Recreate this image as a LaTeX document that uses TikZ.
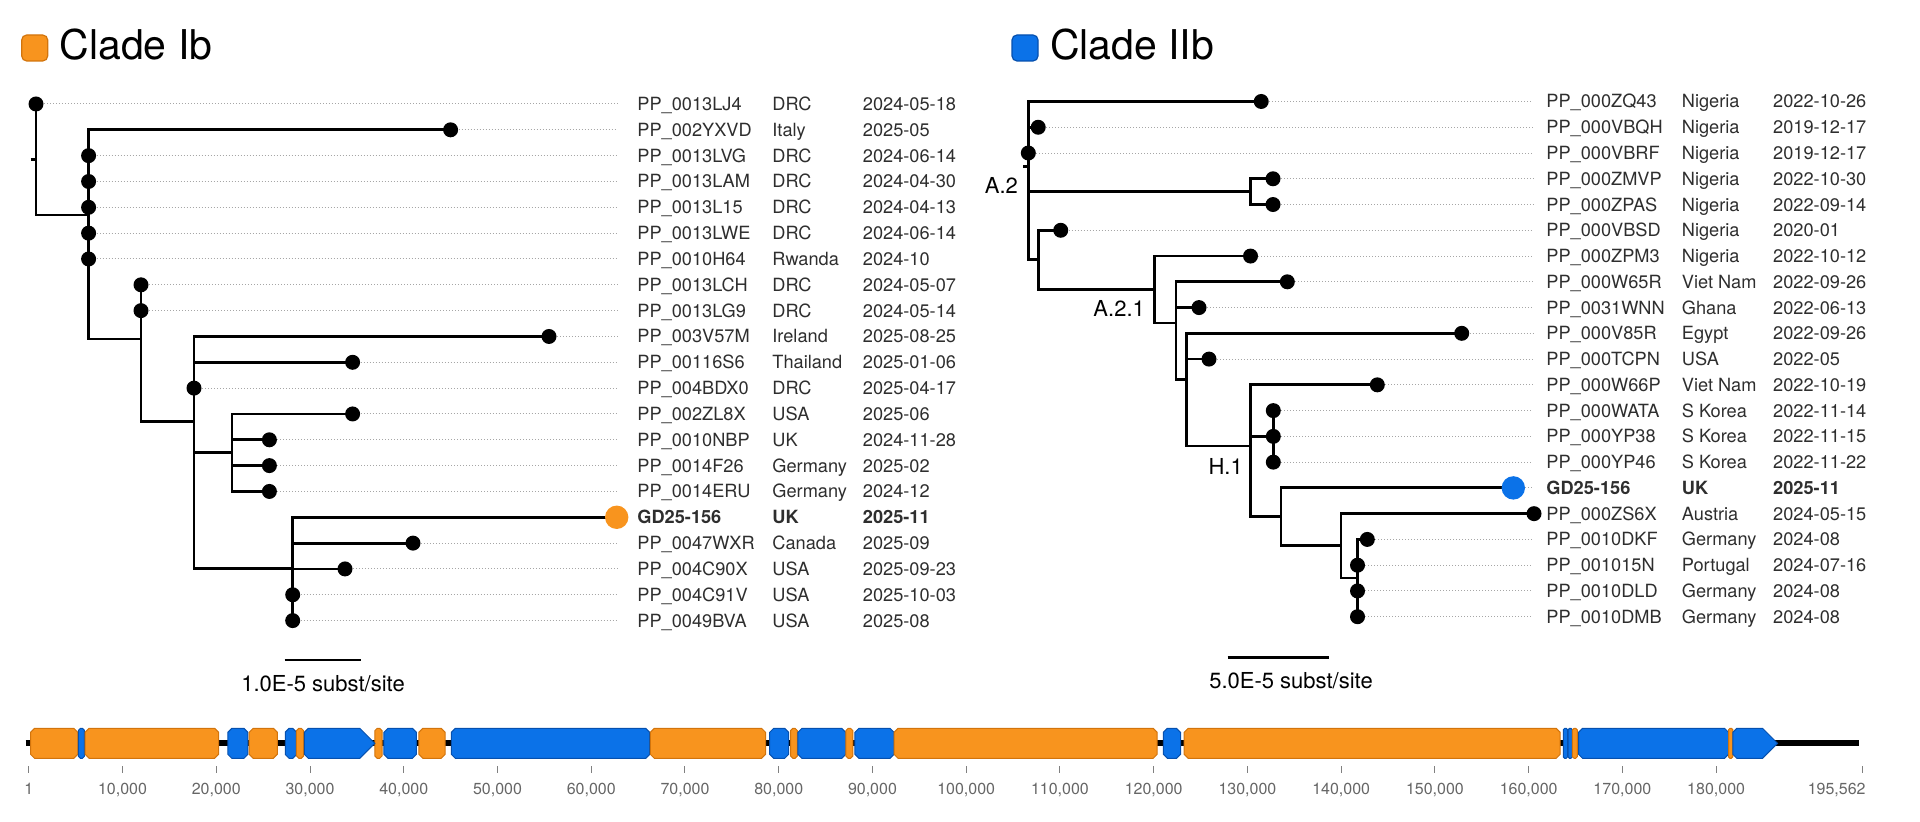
\documentclass[tikz,border=0pt]{standalone}
\usepackage{fontspec}
\setmainfont{TeX Gyre Heros}
\usetikzlibrary{backgrounds,positioning}
\definecolor{cladeI}{HTML}{F8941E}
\definecolor{cladeIdark}{HTML}{D2740C}
\definecolor{cladeII}{HTML}{0B72E8}
\definecolor{cladeIIdark}{HTML}{0650AE}
\definecolor{labgrey}{HTML}{2E2E2E}
\tikzset{
branch/.style={draw, line width=1.4pt},
leaf/.style={circle, fill=black, inner sep=0pt, minimum size=7.5pt},
leafI/.style={leaf, fill=cladeI, minimum size=11.7pt},
leafII/.style={leaf, fill=cladeII, minimum size=11.7pt},
leader/.style={draw, gray!70, line width=0.5pt, dash pattern=on 0.5pt off 1pt},
idlab/.style={anchor=west, inner xsep=#1, inner ysep=0pt, text height=6.5pt,
  text depth=0pt, text=labgrey, font=\fontsize{9.1pt}{11pt}\selectfont},
idlab/.default=0pt,
collab/.style={idlab},
cladelab/.style={anchor=east, inner sep=0pt, text height=7.9pt, text depth=0pt,
  font=\fontsize{11pt}{13pt}\selectfont},
sblab/.style={inner sep=0pt, text height=7.9pt, text depth=0pt,
  font=\fontsize{11pt}{13pt}\selectfont},
cladekey/.style={rectangle, rounded corners=2.5pt, minimum size=13pt, inner sep=0pt, line width=0.6pt},
cladetitle/.style={inner sep=0pt, font=\fontsize{20.5pt}{24pt}\selectfont},
backbone/.style={draw, line width=3pt},
gene/.style={fill=#1, draw=#1dark, line width=0.5pt},
gtick/.style={draw, gray, line width=0.5pt},
ticklab/.style={inner sep=0pt, text height=5.7pt, text depth=0pt, text=gray!80!black,
  font=\fontsize{8pt}{10pt}\selectfont}
}
% genome blocks, positions in kb
\newcommand{\gblock}[3]{%
  \pgfmathsetmacro{\gxa}{28.8+9.374*#1}%
  \pgfmathsetmacro{\gxb}{28.8+9.374*#2}%
  \pgfmathsetmacro{\gch}{min(4,(\gxb-\gxa)/3)}%
  \path[gene=#3] (\gxa,{728.3+\gch}) -- ({\gxa+\gch},728.3) -- ({\gxb-\gch},728.3) -- (\gxb,{728.3+\gch})
    -- (\gxb,{758.3-\gch}) -- ({\gxb-\gch},758.3) -- ({\gxa+\gch},758.3) -- (\gxa,{758.3-\gch}) -- cycle;
}
\newcommand{\garrow}[3]{%
  \pgfmathsetmacro{\gxa}{28.8+9.374*#1}%
  \pgfmathsetmacro{\gxb}{28.8+9.374*#2}%
  \path[gene=#3] (\gxa,732.3) -- ({\gxa+4},728.3) -- ({\gxb-15},728.3) -- (\gxb,743.3)
    -- ({\gxb-15},758.3) -- ({\gxa+4},758.3) -- (\gxa,754.3) -- cycle;
}

\begin{document}
\begin{tikzpicture}[x=0.5pt,y=-0.5pt]
    \useasboundingbox (0,0) rectangle (1920,822);
    % titles
    \node [cladekey, fill=cladeI, draw=cladeIdark] (keyI) at (34.7,48) {};
    \node [cladetitle, right=5.5pt of keyI, yshift=1.6pt] (titleI) {Clade Ib};
    \node [cladekey, fill=cladeII, draw=cladeIIdark] (keyII) at (1025,48) {};
    \node [cladetitle, right=5.5pt of keyII, yshift=1.6pt] (titleII) {Clade IIb};

    % clade Ib tree
    \coordinate (Lstub) at (30.6,159.5);
    \coordinate (Lroot) at (36,159.5);
    \coordinate (Ldrc) at (88.6,215.1);
    \coordinate (Lb) at (141,339);
    \coordinate (Lc) at (194,421.7);
    \coordinate (Ld) at (232,452.7);
    \coordinate (Le) at (292.7,568.9);
    \foreach \x/\s [count=\i from 0] in {36/leaf, 450.6/leaf, 88.6/leaf, 88.6/leaf, 88.6/leaf,
      88.6/leaf, 88.6/leaf, 141/leaf, 141/leaf, 549/leaf, 352.6/leaf, 194/leaf, 352.6/leaf,
      269.4/leaf, 269.4/leaf, 269.4/leaf, 616.7/leafI, 413/leaf, 345/leaf, 292.7/leaf, 292.7/leaf}
      \node [\s] (Lt\i) at (\x,{104+25.83*\i}) {};
    \foreach \id/\ctry/\date [count=\i from 0] in {
      PP\_0013LJ4/DRC/2024-05-18,
      PP\_002YXVD/Italy/2025-05,
      PP\_0013LVG/DRC/2024-06-14,
      PP\_0013LAM/DRC/2024-04-30,
      PP\_0013L15/DRC/2024-04-13,
      PP\_0013LWE/DRC/2024-06-14,
      PP\_0010H64/Rwanda/2024-10,
      PP\_0013LCH/DRC/2024-05-07,
      PP\_0013LG9/DRC/2024-05-14,
      PP\_003V57M/Ireland/2025-08-25,
      PP\_00116S6/Thailand/2025-01-06,
      PP\_004BDX0/DRC/2025-04-17,
      PP\_002ZL8X/USA/2025-06,
      PP\_0010NBP/UK/2024-11-28,
      PP\_0014F26/Germany/2025-02,
      PP\_0014ERU/Germany/2024-12,
      \textbf{GD25-156}/\textbf{UK}/\textbf{2025-11},
      PP\_0047WXR/Canada/2025-09,
      PP\_004C90X/USA/2025-09-23,
      PP\_004C91V/USA/2025-10-03,
      PP\_0049BVA/USA/2025-08}
    {
      \node [idlab=10pt] (Lid\i) at (617,{104+25.83*\i}) {\id};
      \node [collab] (Lct\i) at (772,{104+25.83*\i}) {\ctry};
      \node [collab] (Ldt\i) at (862.5,{104+25.83*\i}) {\date};
    }
    \foreach \i in {0,...,15,17,18,19,20}
      \path [leader] (Lt\i) -- (Lid\i);

    % clade IIb tree
    \coordinate (Rstub) at (1023,166.7);
    \coordinate (Rroot) at (1028.3,166.7);
    \coordinate (Rzm) at (1250.5,191.7);
    \coordinate (Rvb) at (1038.2,259.9);
    \coordinate (Ra21) at (1154.3,289.6);
    \coordinate (Rc) at (1176,323);
    \coordinate (Rd) at (1186.7,379.5);
    \coordinate (Rh1) at (1250.7,446.1);
    \coordinate (Rkor) at (1273.3,436.4);
    \coordinate (Rgd) at (1281,516.9);
    \coordinate (Raut) at (1341,545.9);
    \coordinate (Rger) at (1357.5,578);
    \foreach \x/\s [count=\i from 0] in {1261.2/leaf, 1038.2/leaf, 1028.3/leaf, 1273/leaf, 1273/leaf,
      1060.7/leaf, 1250.5/leaf, 1287.3/leaf, 1199/leaf, 1461.7/leaf, 1209/leaf, 1377.3/leaf,
      1273.3/leaf, 1273.3/leaf, 1273.3/leaf, 1513.3/leafII, 1534/leaf, 1367.3/leaf,
      1357.5/leaf, 1357.5/leaf, 1357.5/leaf}
      \node [\s] (Rt\i) at (\x,{101.5+25.76*\i}) {};
    \foreach \id/\ctry/\date [count=\i from 0] in {
      PP\_000ZQ43/Nigeria/2022-10-26,
      PP\_000VBQH/Nigeria/2019-12-17,
      PP\_000VBRF/Nigeria/2019-12-17,
      PP\_000ZMVP/Nigeria/2022-10-30,
      PP\_000ZPAS/Nigeria/2022-09-14,
      PP\_000VBSD/Nigeria/2020-01,
      PP\_000ZPM3/Nigeria/2022-10-12,
      PP\_000W65R/Viet Nam/2022-09-26,
      PP\_0031WNN/Ghana/2022-06-13,
      PP\_000V85R/Egypt/2022-09-26,
      PP\_000TCPN/USA/2022-05,
      PP\_000W66P/Viet Nam/2022-10-19,
      PP\_000WATA/S Korea/2022-11-14,
      PP\_000YP38/S Korea/2022-11-15,
      PP\_000YP46/S Korea/2022-11-22,
      \textbf{GD25-156}/\textbf{UK}/\textbf{2025-11},
      PP\_000ZS6X/Austria/2024-05-15,
      PP\_0010DKF/Germany/2024-08,
      PP\_001015N/Portugal/2024-07-16,
      PP\_0010DLD/Germany/2024-08,
      PP\_0010DMB/Germany/2024-08}
    {
      \node [idlab=6.5pt] (Rid\i) at (1533,{101.5+25.76*\i}) {\id};
      \node [collab] (Rct\i) at (1681.5,{101.5+25.76*\i}) {\ctry};
      \node [collab] (Rdt\i) at (1772.8,{101.5+25.76*\i}) {\date};
    }
    \foreach \i in {0,...,15,17,18,19,20}
      \path [leader] (Rt\i) -- (Rid\i);
    \node [cladelab] (labA2) at ([shift={(-10,18.5)}]Rroot) {A.2};
    \node [cladelab] (labA21) at ([shift={(-9,19.5)}]Ra21) {A.2.1};
    \node [cladelab] (labH1) at ([shift={(-7.5,20.5)}]Rh1) {H.1};

    \begin{scope}[on background layer]
    \path [branch] (Lstub) -- (Lroot);
    \foreach \c in {Lt0,Ldrc} \path [branch] (Lroot) |- (\c.center);
    \foreach \c in {Lt1,Lt2,Lt3,Lt4,Lt5,Lt6,Lb} \path [branch] (Ldrc) |- (\c.center);
    \foreach \c in {Lt7,Lt8,Lc} \path [branch] (Lb) |- (\c.center);
    \foreach \c in {Lt9,Lt10,Lt11,Ld,Le} \path [branch] (Lc) |- (\c.center);
    \foreach \c in {Lt12,Lt13,Lt14,Lt15} \path [branch] (Ld) |- (\c.center);
    \foreach \c in {Lt16,Lt17,Lt18,Lt19,Lt20} \path [branch] (Le) |- (\c.center);
    \path [branch] (Rstub) -- (Rroot);
    \foreach \c in {Rt0,Rt1,Rt2,Rzm,Rvb} \path [branch] (Rroot) |- (\c.center);
    \foreach \c in {Rt3,Rt4} \path [branch] (Rzm) |- (\c.center);
    \foreach \c in {Rt5,Ra21} \path [branch] (Rvb) |- (\c.center);
    \foreach \c in {Rt6,Rc} \path [branch] (Ra21) |- (\c.center);
    \foreach \c in {Rt7,Rt8,Rd} \path [branch] (Rc) |- (\c.center);
    \foreach \c in {Rt9,Rt10,Rh1} \path [branch] (Rd) |- (\c.center);
    \foreach \c in {Rt11,Rkor,Rgd} \path [branch] (Rh1) |- (\c.center);
    \foreach \c in {Rt12,Rt13,Rt14} \path [branch] (Rkor) |- (\c.center);
    \foreach \c in {Rt15,Raut} \path [branch] (Rgd) |- (\c.center);
    \foreach \c in {Rt16,Rger} \path [branch] (Raut) |- (\c.center);
    \foreach \c in {Rt17,Rt18,Rt19,Rt20} \path [branch] (Rger) |- (\c.center);
    \end{scope}

    % scale bars
    \coordinate (sbIa) at (284.7,660);
    \coordinate (sbIb) at (361.3,660);
    \path [branch] (sbIa) -- (sbIb);
    \node [sblab] (sbIlab) at (323,684) {1.0E-5 subst/site};
    \coordinate (sbIIa) at (1227.6,657.3);
    \coordinate (sbIIb) at (1329.3,657.3);
    \path [branch] (sbIIa) -- (sbIIb);
    \node [sblab] (sbIIlab) at (1291,681) {5.0E-5 subst/site};

    % genome
    \coordinate (gstart) at (25.7,743.3);
    \coordinate (gend) at (1859,743.3);
    \path [backbone] (gstart) -- (gend);
    \foreach \a/\b/\c in {0.19/5.23/cladeI, 5.29/5.94/cladeII, 6.01/20.25/cladeI,
      21.23/23.38/cladeII, 23.51/26.52/cladeI, 27.37/28.55/cladeII, 28.55/29.33/cladeI,
      36.91/37.69/cladeI, 37.89/41.35/cladeII, 41.61/44.42/cladeI, 45.07/66.24/cladeII,
      66.30/78.59/cladeI, 79.04/81.06/cladeII, 81.27/81.98/cladeI, 82.05/87.15/cladeII,
      87.15/87.92/cladeI, 88.13/92.30/cladeII, 92.30/120.37/cladeI, 121.03/122.86/cladeII,
      123.25/163.36/cladeI, 163.69/164.16/cladeII, 164.20/164.67/cladeII, 164.67/165.19/cladeI,
      165.32/181.32/cladeII, 181.32/181.78/cladeI}
      \gblock{\a}{\b}{\c};
    \garrow{29.39}{36.91}{cladeII};
    \garrow{181.78}{186.55}{cladeII};
    \path [gtick] (28.8,766) -- (28.8,773);
    \node [ticklab] (tl0) at (28.8,788.3) {1};
    \foreach \k in {1,...,18} {
      \path [gtick] ({28.8+93.74*\k},766) -- ({28.8+93.74*\k},773);
      \node [ticklab] (tl\k) at ({28.8+93.74*\k},788.3) {\k0,000};
    }
    \path [gtick] (1862,766) -- (1862,773);
    \node [ticklab, anchor=east] (tlend) at (1866,788.3) {195,562};
\end{tikzpicture}
\end{document}
